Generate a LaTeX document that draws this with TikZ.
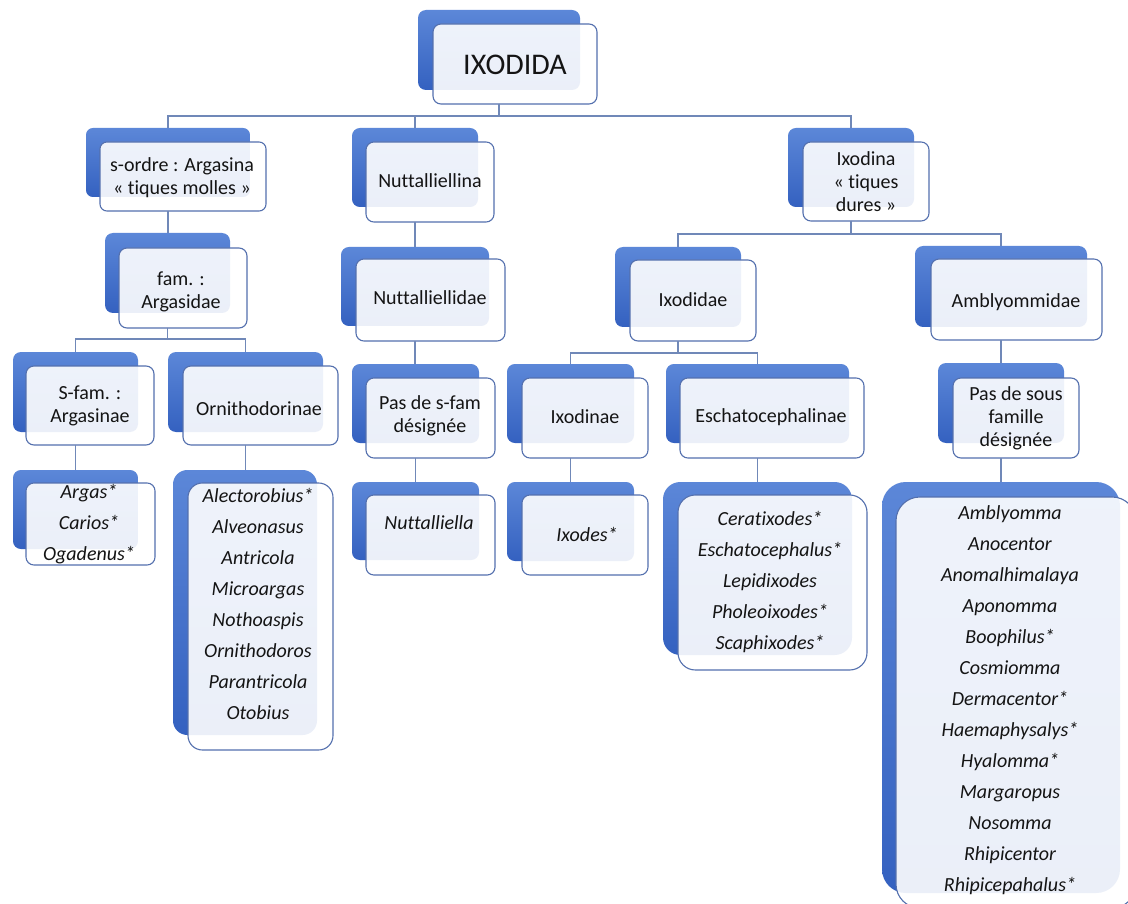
\documentclass[tikz,border=0pt]{standalone}
\usepackage{fontspec}
\setmainfont{Carlito}[Ligatures={TeX,CommonOff}]
\definecolor{blueTop}{HTML}{5C87D8}
\definecolor{blueBot}{HTML}{3461C0}
\definecolor{boxBorder}{HTML}{5470AE}
\definecolor{connCol}{HTML}{7088B8}
\definecolor{txtCol}{HTML}{141414}
\tikzset{
  bluebox/.style={draw=none, top color=blueTop, bottom color=blueBot, inner sep=0pt, outer sep=0pt},
  whitebox/.style={draw=boxBorder, line width=1.1pt, fill=white, fill opacity=0.9, draw opacity=1, inner sep=0pt, outer sep=0pt},
  lbl/.style={font=\fontsize{20}{23}\selectfont, align=center, inner sep=0pt, text=txtCol},
  gen/.style={font=\itshape\fontsize{20}{31}\selectfont, align=center, inner sep=0pt, text=txtCol},
  conn/.style={draw=connCol, line width=1.5pt},
}
\newcommand\tbox[9]{%
  \pgfmathsetmacro\bw{#4-#2}\pgfmathsetmacro\bh{#5-#3}%
  \pgfmathsetmacro\ww{#8-#6}\pgfmathsetmacro\wh{#9-#7}%
  \pgfmathsetmacro\rr{0.1*min(\bw,\bh)}%
  \node[bluebox, minimum width=\bw pt, minimum height=\bh pt, rounded corners=\rr pt] (#1-b) at ({(#2+#4)/2},{(#3+#5)/2}) {};
  \node[whitebox, minimum width=\ww pt, minimum height=\wh pt, rounded corners=\rr pt] (#1-w) at ({(#6+#8)/2},{(#7+#9)/2}) {};
  \coordinate (#1-out) at (#1-b.center |- #1-w.south);
}
\begin{document}
\begin{tikzpicture}[x=1pt,y=-1pt]
\useasboundingbox (0,0) rectangle (1128,904);
\fill[white] (0,0) rectangle (1128,904);

% boxes
\tbox{root}{418}{10}{580}{90}{433}{24}{597}{104}
\tbox{argasina}{86}{128}{250}{197}{100}{142}{266}{211}
\tbox{nuttina}{352}{128}{478}{207}{366}{142}{494}{222}
\tbox{ixodina}{788}{128}{914}{207}{803}{142}{929}{221}
\tbox{argasidae}{105}{233}{230}{313}{119}{248}{247}{328}
\tbox{nuttidae}{341}{247}{489}{326}{356}{259}{505}{341}
\tbox{ixodidae}{615}{247}{741}{327}{630}{260}{756}{341}
\tbox{amblyidae}{915}{246}{1087}{327}{931}{259}{1102}{340}
\tbox{argasinae}{13}{352}{138}{432}{26}{366}{154}{445}
\tbox{ornithinae}{168}{352}{323}{432}{183}{366}{338}{445}
\tbox{pasfam}{352}{364}{479}{443}{366}{378}{495}{458}
\tbox{ixodinae}{507}{364}{634}{443}{522}{378}{648}{458}
\tbox{eschinae}{666}{364}{849}{443}{680}{378}{864}{458}
\tbox{passous}{938}{363}{1064}{443}{953}{378}{1079}{458}
\tbox{argasgen}{13}{470}{138}{549}{26}{483}{155}{565}
\tbox{ornithgen}{173}{470}{317}{735}{188}{483}{333}{750}
\tbox{nuttgen}{352}{482}{479}{560}{366}{495}{495}{575}
\tbox{ixodgen}{507}{482}{634}{561}{522}{495}{648}{575}
\tbox{eschgen}{663}{482}{852}{655}{678}{495}{867}{670}
\tbox{amblygen}{882}{482}{1120}{893}{896}{497}{1136}{908}

% connectors
\draw[conn] (root-out) -- ++(0,12) -| (argasina-b.north);
\draw[conn] (root-out) -- ++(0,12) -| (nuttina-b.north);
\draw[conn] (root-out) -- ++(0,12) -| (ixodina-b.north);
\draw[conn] (argasina-out) -- (argasina-out |- argasidae-b.north);
\draw[conn] (nuttina-out) -- (nuttina-out |- nuttidae-b.north);
\draw[conn] (ixodina-out) -- ++(0,13) -| (ixodidae-b.north);
\draw[conn] (ixodina-out) -- ++(0,13) -| (amblyidae-b.north);
\draw[conn] (argasidae-out) -- ++(0,11) -| (argasinae-b.north);
\draw[conn] (argasidae-out) -- ++(0,11) -| (ornithinae-b.north);
\draw[conn] (nuttidae-out) -- (nuttidae-out |- pasfam-b.north);
\draw[conn] (ixodidae-out) -- ++(0,12) -| (ixodinae-b.north);
\draw[conn] (ixodidae-out) -- ++(0,12) -| (eschinae-b.north);
\draw[conn] (amblyidae-out) -- (amblyidae-out |- passous-b.north);
\draw[conn] (argasinae-out) -- (argasinae-out |- argasgen-b.north);
\draw[conn] (ornithinae-out) -- (ornithinae-out |- ornithgen-b.north);
\draw[conn] (pasfam-out) -- (pasfam-out |- nuttgen-b.north);
\draw[conn] (ixodinae-out) -- (ixodinae-out |- ixodgen-b.north);
\draw[conn] (eschinae-out) -- (eschinae-out |- eschgen-b.north);
\draw[conn] (passous-out) -- (passous-out |- amblygen-b.north);

% texts
\node[lbl, font=\fontsize{30}{34}\selectfont] (root-t) at (515,65) {IXODIDA};
\node[lbl] (argasina-t) at (182,178) {s-ordre : Argasina\\« tiques molles »};
\node[lbl] (nuttina-t) at (430,181) {Nuttalliellina};
\node[lbl] (ixodina-t) at (866,182) {Ixodina\\« tiques\\dures »};
\node[lbl] (argasidae-t) at (181,292) {fam. :\\Argasidae};
\node[lbl] (nuttidae-t) at (430,298) {Nuttalliellidae};
\node[lbl] (ixodidae-t) at (693,300) {Ixodidae};
\node[lbl] (amblyidae-t) at (1016,302) {Amblyommidae};
\node[lbl] (argasinae-t) at (90,406) {S-fam. :\\Argasinae};
\node[lbl] (ornithinae-t) at (259,409) {Ornithodorinae};
\node[lbl] (pasfam-t) at (430,416) {Pas de s-fam\\désignée};
\node[lbl] (ixodinae-t) at (585,417) {Ixodinae};
\node[lbl] (eschinae-t) at (771,417) {Eschatocephalinae};
\node[lbl] (passous-t) at (1016,418) {Pas de sous\\famille\\désignée};
\node[gen] (argasgen-t) at (89,524) {Argas*\\Carios*\\Ogadenus*};
\node[gen] (ornithgen-t) at (258,604) {Alectorobius*\\Alveonasus\\Antricola\\Microargas\\Nothoaspis\\Ornithodoros\\Parantricola\\Otobius};
\node[gen] (nuttgen-t) at (429,523) {Nuttalliella};
\node[gen] (ixodgen-t) at (587,534) {Ixodes*};
\node[gen] (eschgen-t) at (770,582) {Ceratixodes*\\Eschatocephalus*\\Lepidixodes\\Pholeoixodes*\\Scaphixodes*};
\node[gen] (amblygen-t) at (1010,700) {Amblyomma\\Anocentor\\Anomalhimalaya\\Aponomma\\Boophilus*\\Cosmiomma\\Dermacentor*\\Haemaphysalys*\\Hyalomma*\\Margaropus\\Nosomma\\Rhipicentor\\Rhipicepahalus*};
\end{tikzpicture}
\end{document}
